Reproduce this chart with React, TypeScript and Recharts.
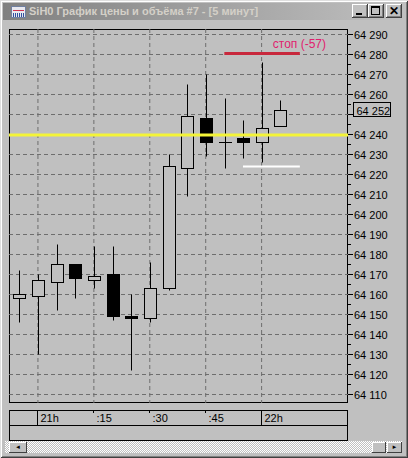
import React from 'react'
import {
  Bar,
  CartesianGrid,
  ComposedChart,
  ReferenceLine,
  XAxis,
  YAxis
} from 'recharts'

// 5-минутные свечи SiH0, 20:55 … 22:05
const times = ['20:55', '21:00', '21:05', '21:10', '21:15', '21:20', '21:25', '21:30', '21:35', '21:40', '21:45', '21:50', '21:55', '22:00', '22:05']
const opens = [64158, 64159, 64166, 64175, 64167, 64170, 64149, 64148, 64163, 64223, 64248, 64236, 64238, 64236, 64244]
const highs = [64172, 64170, 64185, 64175, 64184, 64184, 64160, 64176, 64230, 64265, 64270, 64258, 64247, 64276, 64257]
const lows = [64146, 64130, 64152, 64158, 64163, 64147, 64122, 64146, 64162, 64209, 64229, 64223, 64228, 64226, 64244]
const closes = [64160, 64167, 64175, 64168, 64169, 64149, 64148, 64163, 64224, 64249, 64236, 64236, 64236, 64243, 64252]

const xTickIdx = [1, 4, 7, 10, 13]
const xTickLabels = ['21h', ':15', ':30', ':45', '22h']
const yTicksMajor = [64110, 64120, 64130, 64140, 64150, 64160, 64170, 64180, 64190, 64200, 64210, 64220, 64230, 64240, 64250, 64260, 64270, 64280, 64290]

const stopLevel = 64280.5
const stopText = 'стоп (-57)'
const avgLevel = 64239.7
const targetLevel = 64224
const lastPrice = 64252

const BG = '#c0c0c0'
const FONT = '"Liberation Sans", Arial, sans-serif'

const rows = times.map((t, i) => ({
  i,
  t,
  open: opens[i],
  high: highs[i],
  low: lows[i],
  close: closes[i],
  range: [lows[i], highs[i]]
}))

const yTicks = yTicksMajor.flatMap((v) => (v === 64290 ? [v] : [v, v + 5]))

const fmt = (v: number) => {
  const s = String(Math.round(v))
  return s.slice(0, 2) + ' ' + s.slice(2)
}

function Candle(props: any) {
  const { x, y, width, height, payload } = props
  const { open, close, high, low } = payload
  const top = Math.min(y, y + height)
  const h = Math.abs(height)
  const k = high === low ? 0 : h / (high - low)
  const py = (v: number) => top + (high - v) * k
  const cx = Math.round(x + width / 2) + 0.5
  const up = close >= open
  const yo = py(Math.max(open, close))
  const yc = py(Math.min(open, close))
  return (
    <g>
      <line x1={cx} x2={cx} y1={py(high)} y2={py(low)} stroke="#000" strokeWidth={1} />
      {Math.abs(open - close) < 0.5 ? (
        <line x1={cx - 6.5} x2={cx + 6.5} y1={yo} y2={yo} stroke="#000" strokeWidth={1} />
      ) : (
        <rect x={cx - 6} y={yo} width={12} height={yc - yo} fill={up ? BG : '#000'} stroke="#000" strokeWidth={1} />
      )}
    </g>
  )
}

function YTick(props: any) {
  const { y, payload } = props
  const major = payload.value % 10 === 0
  // подпись под рамкой последней цены не видна
  const hidden = Math.abs(payload.value - lastPrice) < 6
  const x0 = 348
  return (
    <g>
      <line x1={x0} x2={x0 + (major ? 5 : 3)} y1={y} y2={y} stroke="#000" />
      {major && !hidden && (
        <text x={x0 + 6} y={y + 4} fontSize={11} fontFamily={FONT} fill="#000">
          {fmt(payload.value)}
        </text>
      )}
    </g>
  )
}

function XTick(props: any) {
  const { x, payload } = props
  const idx = xTickIdx.indexOf(payload.value)
  const label = xTickLabels[idx]
  const hour = label.endsWith('h')
  const px = Math.round(x) - 0.5
  return (
    <g>
      <line x1={px} x2={px} y1={410} y2={hour ? 425 : 413} stroke="#000" />
      <text x={px + 3} y={422} fontSize={11} fontFamily={FONT} fill="#000">
        {label}
      </text>
    </g>
  )
}

function StopLabel(props: any) {
  const vb = props.viewBox || {}
  const x2 = (vb.x ?? 0) + (vb.width ?? 0)
  return (
    <text x={x2 - 27} y={(vb.y ?? 0) - 6} fontSize={12} fontFamily={FONT} fill="#e0206e">
      {stopText}
    </text>
  )
}

function LastLabel(props: any) {
  const vb = props.viewBox || {}
  const bx = vb.x + vb.width + 5.5
  return (
    <g>
      <rect x={bx} y={vb.y - 8} width={37} height={14} fill={BG} stroke="#000" />
      <text x={bx + 3} y={vb.y + 4} fontSize={11} fontFamily={FONT} fill="#000">
        {fmt(lastPrice)}
      </text>
    </g>
  )
}

function Btn({ left, children }: { left: number; children?: React.ReactNode }) {
  return (
    <div
      style={{
        position: 'absolute',
        left,
        top: 4,
        width: 16,
        height: 14,
        background: BG,
        boxShadow: 'inset -1px -1px #404040, inset 1px 1px #fff, inset -2px -2px #808080',
        fontFamily: FONT,
        fontWeight: 'bold',
        fontSize: 12,
        lineHeight: '14px',
        textAlign: 'center',
        color: '#000'
      }}
    >
      {children}
    </div>
  )
}

export default function App() {
  return (
    <div
      style={{
        position: 'fixed',
        left: 0,
        top: 0,
        width: 408,
        height: 458,
        background: BG,
        overflow: 'hidden',
        boxShadow: 'inset 1px 1px #dfdfdf, inset -1px -1px #404040, inset 2px 2px #fff, inset -2px -2px #808080'
      }}
    >
      {/* title bar */}
      <div
        style={{
          position: 'absolute',
          left: 3,
          top: 3,
          width: 402,
          height: 17,
          background: 'linear-gradient(to right, #808080, #c0c0c0)'
        }}
      />
      <div style={{ position: 'absolute', left: 11, top: 6, width: 15, height: 12, background: '#e8e8f0', border: '1px solid #7080a0', boxSizing: 'border-box' }}>
        <div style={{ position: 'absolute', left: 1, top: 3, width: 11, height: 1, background: '#d03050' }} />
        <div style={{ position: 'absolute', left: 1, top: 6, width: 11, height: 4, background: 'repeating-linear-gradient(to right, #3050a0 0 1px, transparent 1px 2px)' }} />
      </div>
      <div
        style={{
          position: 'absolute',
          left: 29,
          top: 5,
          fontFamily: FONT,
          fontWeight: 'bold',
          fontSize: 11,
          lineHeight: '12px',
          color: '#d4d0c8',
          whiteSpace: 'nowrap'
        }}
      >
        SiH0 График цены и объёма #7 - [5 минут]
      </div>
      <Btn left={352}>
        <div style={{ position: 'absolute', left: 4, top: 9, width: 6, height: 2, background: '#000' }} />
      </Btn>
      <Btn left={368}>
        <div style={{ position: 'absolute', left: 3, top: 2, width: 9, height: 9, border: '1px solid #000', borderTopWidth: 2, boxSizing: 'border-box' }} />
      </Btn>
      <Btn left={386}>✕</Btn>

      {/* plot frame */}
      <div style={{ position: 'absolute', left: 9, top: 29, width: 339, height: 374, border: '1px solid #000', boxSizing: 'border-box' }} />
      {/* time panel */}
      <div style={{ position: 'absolute', left: 9, top: 410, width: 339, height: 31, border: '1px solid #000', boxSizing: 'border-box' }} />
      <div style={{ position: 'absolute', left: 9, top: 425, width: 339, height: 1, background: '#000' }} />

      {/* scrollbar */}
      <div
        style={{
          position: 'absolute',
          left: 5,
          top: 441,
          width: 397,
          height: 12,
          backgroundColor: '#fff',
          backgroundImage: 'repeating-conic-gradient(#c0c0c0 0 25%, #fff 0 50%)',
          backgroundSize: '2px 2px'
        }}
      />
      {[{ l: 9, w: 18, a: '◄' }, { l: 372, w: 14, a: '' }, { l: 387, w: 15, a: '►' }].map((b) => (
        <div
          key={b.l}
          style={{
            position: 'absolute',
            left: b.l,
            top: 442,
            width: b.w,
            height: 11,
            background: BG,
            boxShadow: 'inset -1px -1px #404040, inset 1px 1px #fff',
            fontSize: 6,
            lineHeight: '11px',
            textAlign: 'center',
            color: '#000'
          }}
        >
          {b.a}
        </div>
      ))}

      <div style={{ position: 'absolute', left: 0, top: 0 }}>
        <ComposedChart width={408} height={458} data={rows} margin={{ top: 29, left: 9, right: 5, bottom: 25 }}>
          <CartesianGrid
            stroke="#6e6e6e"
            strokeDasharray="4 3"
            horizontalValues={yTicksMajor}
            verticalValues={xTickIdx}
          />
          <XAxis
            dataKey="i"
            type="number"
            domain={[-0.553, 17.634]}
            allowDataOverflow
            ticks={xTickIdx}
            interval={0}
            axisLine={false}
            tickLine={false}
            height={30}
            tick={<XTick />}
          />
          <YAxis
            orientation="right"
            type="number"
            domain={[64105.75, 64292.75]}
            allowDataOverflow
            ticks={yTicks}
            interval={0}
            axisLine={false}
            tickLine={false}
            width={55}
            tick={<YTick />}
          />
          <ReferenceLine y={avgLevel} stroke="#f4f438" strokeWidth={3} />
          <ReferenceLine
            segment={[{ x: 11, y: stopLevel }, { x: 15.05, y: stopLevel }]}
            stroke="#c8283c"
            strokeWidth={3}
            label={<StopLabel />}
          />
          <ReferenceLine
            segment={[{ x: 12, y: targetLevel }, { x: 15.05, y: targetLevel }]}
            stroke="#ffffff"
            strokeWidth={2}
          />
          <ReferenceLine y={lastPrice} stroke="none" label={<LastLabel />} />
          <Bar dataKey="range" barSize={13} shape={<Candle />} isAnimationActive={false} />
        </ComposedChart>
      </div>
    </div>
  )
}
